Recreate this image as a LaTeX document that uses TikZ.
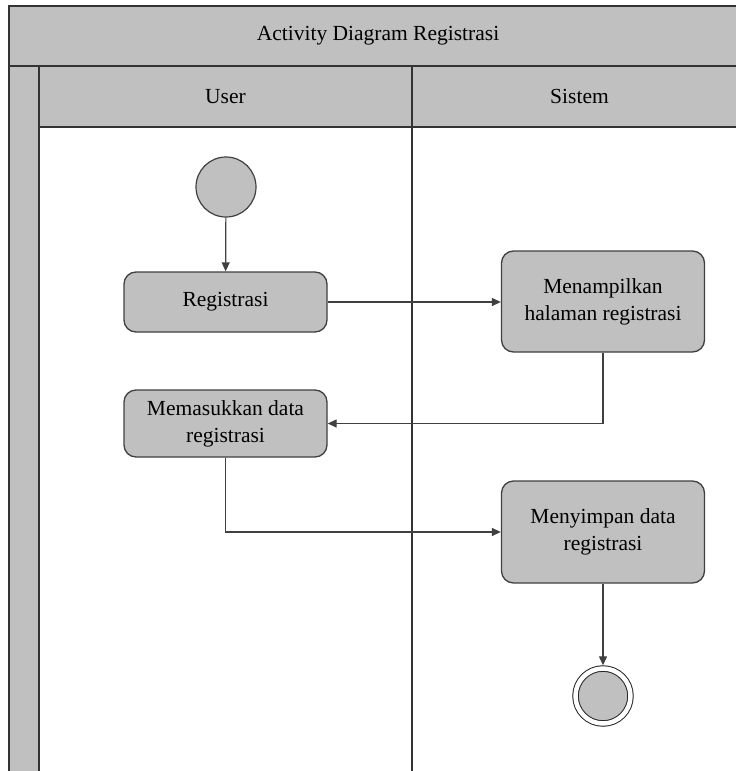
\documentclass[tikz,border=0pt]{standalone}
\usepackage{fontspec}
\setmainfont{Liberation Serif}
\usetikzlibrary{arrows.meta, positioning, calc}
\definecolor{lanegray}{HTML}{C0C0C0}
\definecolor{linegray}{HTML}{404040}

\begin{document}
\begin{tikzpicture}[x=1pt, y=-1pt,
    txt/.style={font=\fontsize{21.5}{27}\selectfont, align=center, inner sep=0pt},
    lane/.style={draw=black!80, line width=1.5pt, fill=lanegray},
    lanehead/.style={lane, txt, rectangle, minimum height=61pt},
    act/.style={txt, rectangle, rounded corners=12pt, draw=linegray,
      fill=lanegray, line width=1.3pt, minimum width=203pt},
    flow/.style={draw=linegray, line width=1.2pt,
      -{Triangle[length=9pt, width=8pt]}}]
    \useasboundingbox (0,0) rectangle (736,771);
    \clip (0,0) rectangle (736,771);
    \draw[lane] (9,66) rectangle (39,790);
    \node[lanehead, minimum width=738pt, minimum height=60pt] (judul) at (378,36)
      {Activity Diagram Registrasi};
    \node[lanehead, minimum width=373pt] (user) at (225.5,96.5) {User};
    \node[lanehead, minimum width=335pt] (sistem) at (579.5,96.5) {Sistem};
    \draw[black!80, line width=1.5pt] (412,127) -- (412,790);

    \node[circle, draw=linegray, fill=lanegray, line width=1.2pt,
      minimum size=60pt, inner sep=0pt] (mulai) at (226,187) {};
    \node[act, minimum height=60pt] (registrasi) at (225.5,302) {Registrasi};
    \node[act, minimum height=101pt] (tampil) at (603,301.5)
      {Menampilkan\\halaman registrasi};
    \node[act, minimum height=67pt] (isi) at (225.5,423.5)
      {Memasukkan data\\registrasi};
    \node[act, minimum height=102pt] (simpan) at (603,532)
      {Menyimpan data\\registrasi};
    \node[circle, draw=black!85, fill=lanegray, line width=1pt, double=white,
      double distance=4.5pt, minimum size=55pt, inner sep=0pt, outer sep=3.2pt]
      (selesai) at (603,696) {};

    \draw[flow] (mulai) -- (registrasi);
    \draw[flow] (registrasi.east) -- (registrasi.east -| tampil.west);
    \draw[flow] (tampil.south) |- (isi.east);
    \draw[flow] (isi.south) |- (simpan.west);
    \draw[flow] (simpan) -- (selesai);
  \end{tikzpicture}
\end{document}
